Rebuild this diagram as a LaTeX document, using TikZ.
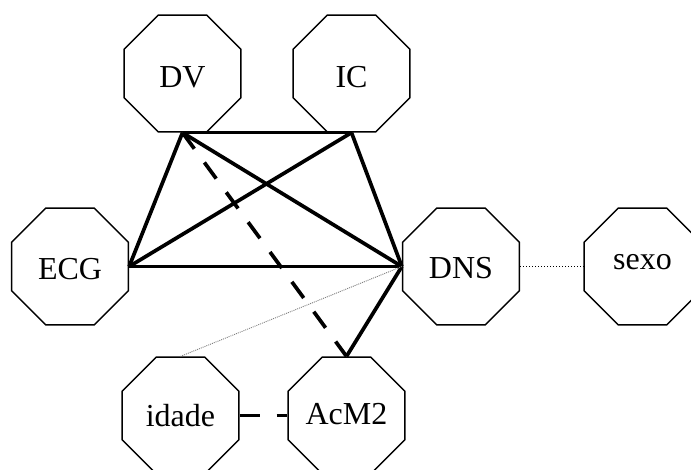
\documentclass[tikz,border=0pt]{standalone}
\usepackage{fontspec}
\setmainfont{Liberation Serif}
\usetikzlibrary{shapes.geometric}
\begin{document}
\begin{tikzpicture}[x=1pt,y=-1pt,
  oct/.style={draw,line width=1.4pt,regular polygon,regular polygon sides=8,
    minimum size=126.5pt,inner sep=0pt,
    font=\fontsize{32}{37}\selectfont,text height=24pt,text depth=0pt},
  strong/.style={line width=3.7pt},
  strongdash/.style={line width=3.7pt,dash pattern=on 20pt off 17pt},
  weakdot/.style={line width=1.4pt,dash pattern=on 1.3pt off 1.7pt},
  faintdot/.style={line width=0.9pt,gray,dash pattern=on 1pt off 1pt}]
\useasboundingbox (0,0) rectangle (691,470);
\clip (0,0) rectangle (691,470);
\node[oct] (DV) at (182.5,73.5) {\raisebox{-1.8pt}{DV}};
\node[oct] (IC) at (351.5,73.5) {\raisebox{-1.8pt}{IC}};
\node[oct] (ECG) at (70,266.5) {\raisebox{-0.8pt}{ECG}};
\node[oct] (DNS) at (461,266.5) {DNS};
\node[oct] (sexo) at (642.5,266.5) {\raisebox{8.5pt}{sexo}};
\node[oct] (idade) at (180.5,415.5) {\raisebox{1pt}{idade}};
\node[oct] (AcM2) at (346.5,415.5) {\raisebox{2.5pt}{AcM2}};
\draw[strong] (DV.south) -- (IC.south);
\draw[strong] (DV.south) -- (ECG.east);
\draw[strong] (DV.south) -- (DNS.west);
\draw[strong] (IC.south) -- (ECG.east);
\draw[strong] (IC.south) -- (DNS.west);
\draw[strong] (ECG.east) -- (DNS.west);
\draw[strong] (DNS.west) -- (AcM2.north);
\draw[strongdash] (DV.south) -- (AcM2.north);
\draw[strongdash] (idade.east) -- (AcM2.west);
\draw[weakdot] (DNS.east) -- (sexo.west);
\draw[faintdot] (DNS.west) -- (idade.north);
\end{tikzpicture}
\end{document}
